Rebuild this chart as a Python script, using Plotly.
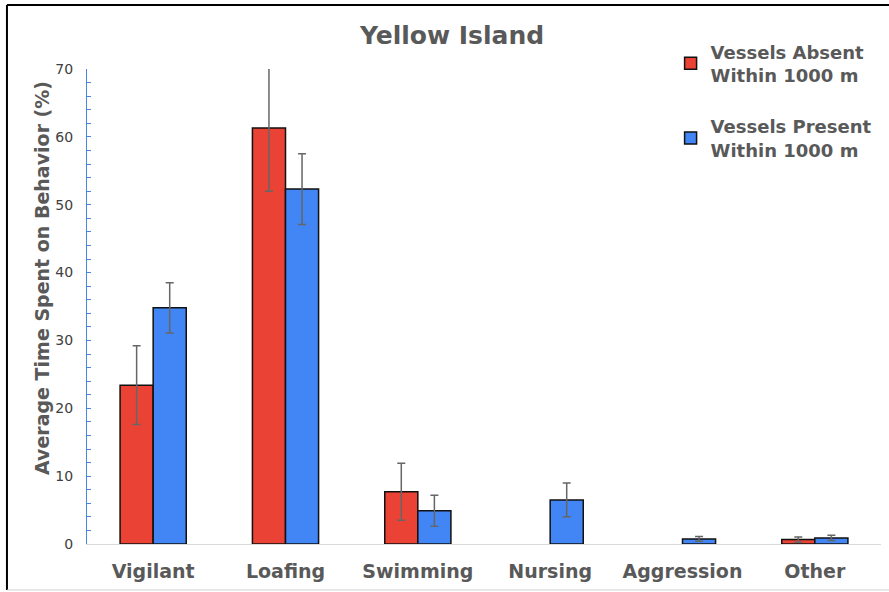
import plotly.graph_objects as go

categories = ["Vigilant", "Loafing", "Swimming", "Nursing", "Aggression", "Other"]

absent_mean = [23.4, 61.3, 7.7, None, None, 0.65]
absent_err = [5.8, 9.3, 4.2, None, None, 0.4]

present_mean = [34.8, 52.3, 4.9, 6.5, 0.75, 0.9]
present_err = [3.7, 5.2, 2.3, 2.5, 0.35, 0.4]

red = "#ea4335"
blue = "#4285f4"
grey_text = "#595959"
font_family = "DejaVu Sans"

fig = go.Figure()

fig.add_trace(go.Bar(
    x=categories,
    y=absent_mean,
    name="Vessels Absent<br>Within 1000 m",
    legendgroup="absent",
    marker=dict(color=red, line=dict(color="#111111", width=1.5)),
    error_y=dict(type="data", array=absent_err, color="#666666", thickness=1.5, width=4),
))

fig.add_trace(go.Bar(
    x=categories,
    y=present_mean,
    name="Vessels Present<br>Within 1000 m",
    legendgroup="present",
    marker=dict(color=blue, line=dict(color="#111111", width=1.5)),
    error_y=dict(type="data", array=present_err, color="#666666", thickness=1.5, width=4),
))

fig.update_layout(
    width=889,
    height=592,
    margin=dict(l=87, r=8, t=69, b=48),
    paper_bgcolor="white",
    plot_bgcolor="white",
    barmode="group",
    bargap=0.5,
    bargroupgap=0,
    font=dict(family=font_family, color=grey_text),
    title=dict(
        text="Yellow Island",
        x=0.4597, xref="paper", xanchor="center",
        y=1 - 35 / 592, yanchor="middle",
        font=dict(size=25, weight="bold", color=grey_text, family=font_family),
    ),
    legend=dict(
        x=0.735, y=1.075, xanchor="left", yanchor="top",
        font=dict(size=18, weight="bold", color=grey_text, family=font_family),
        bgcolor="rgba(0,0,0,0)",
        tracegroupgap=25,
        traceorder="grouped",
    ),
    showlegend=True,
)

fig.update_xaxes(
    showline=True, linecolor="#d9d9d9", linewidth=1,
    showgrid=False, ticks="",
    tickfont=dict(size=19, weight="bold", color=grey_text, family=font_family),
    ticklabelstandoff=10,
)

fig.update_yaxes(
    range=[0, 70],
    dtick=10,
    showline=True, linecolor="#4a86e8", linewidth=1,
    showgrid=False, zeroline=False,
    ticks="inside", ticklen=4, tickcolor="#4a86e8",
    minor=dict(dtick=2, ticks="inside", ticklen=4, tickcolor="#4a86e8", showgrid=False),
    tickfont=dict(size=14, color="#404040", family=font_family),
    ticklabelstandoff=10,
)

fig.add_annotation(
    text="Average Time Spent on Behavior (%)",
    xref="paper", yref="paper",
    x=-0.0567, y=0.56,
    textangle=-90, showarrow=False,
    xanchor="center", yanchor="middle",
    font=dict(size=19, weight="bold", color=grey_text, family=font_family),
)

# picture frame around the chart
fig.add_shape(type="line", xref="paper", yref="paper",
              x0=-0.1008, x1=-0.1008, y0=1.1347, y1=-0.0968,
              line=dict(color="black", width=2))
fig.add_shape(type="line", xref="paper", yref="paper",
              x0=-0.1008, x1=1.02, y0=1.1347, y1=1.1347,
              line=dict(color="black", width=2))
fig.add_shape(type="line", xref="paper", yref="paper",
              x0=-0.1008, x1=1.02, y0=-0.0968, y1=-0.0968,
              line=dict(color="#d0d0d0", width=1))

fig.write_html(
    "out.html",
    config={"displayModeBar": False},
    post_script="document.body.style.margin='0';",
)
